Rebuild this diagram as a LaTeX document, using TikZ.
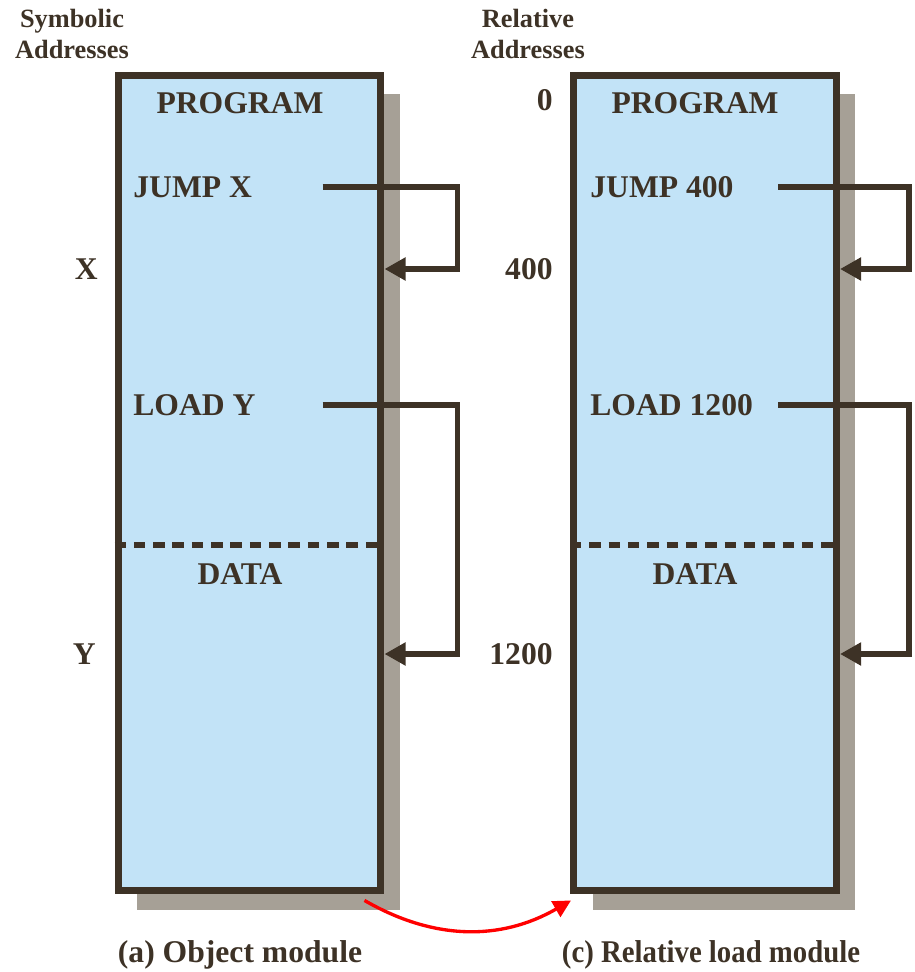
\documentclass[tikz,border=0pt]{standalone}
\usepackage{fontspec}
\setmainfont{Liberation Serif}
\usetikzlibrary{
    positioning,
    arrows.meta,
    shadows,
    calc
}
\definecolor{ModuleBlue}{RGB}{194,227,247}
\definecolor{InkBrown}{RGB}{61,50,38}
\definecolor{ShadowGray}{RGB}{166,160,150}

\begin{document}
\begin{tikzpicture}[
    x=0.02cm, y=-0.02cm,
    module/.style={rectangle, draw=InkBrown, line width=4pt, fill=ModuleBlue, minimum width=5.26cm, minimum height=16.32cm, drop shadow={shadow xshift=0.38cm, shadow yshift=-0.38cm, fill=ShadowGray, opacity=1}},
    txt/.style={text=InkBrown, font=\fontsize{18}{22}\selectfont\bfseries, inner sep=0pt},
    addr/.style={text=InkBrown, font=\fontsize{15}{18}\selectfont\bfseries, align=center, inner sep=0pt},
    link/.style={draw=InkBrown, line width=3.4pt, -{Triangle[length=12pt,width=12.5pt]}},
    divider/.style={draw=InkBrown, line width=3.2pt, dash pattern=on 6.5pt off 4.5pt},
    relocate/.style={draw=red, line width=1.9pt, -{Triangle[length=10pt,width=10pt]}}
]
\useasboundingbox (0,0) rectangle (914,972);

% the two modules
\node[module] (objmod) at (249.5,483) {};
\node[module] (relmod) at (705,483) {};

\node[addr] (symhead) at (72,34) {Symbolic\\Addresses};
\node[addr] (relhead) at (528,34) {Relative\\Addresses};

% object module
\node[txt] (objprog) at (240,103) {PROGRAM};
\node[txt, anchor=west] (jumpx) at (133,187) {JUMP X};
\node[txt, anchor=west] (loady) at (133,405) {LOAD Y};
\node[txt] (objdata) at (240,574) {DATA};
\node[txt, anchor=east] (symx) at (98,269) {X};
\node[txt, anchor=east] (symy) at (96,654) {Y};

% relative load module
\node[txt] (relprog) at (695,103) {PROGRAM};
\node[txt, anchor=west] (jump400) at (590,187) {JUMP 400};
\node[txt, anchor=west] (load1200) at (590,405) {LOAD 1200};
\node[txt] (reldata) at (695,574) {DATA};
\node[txt, anchor=east] (rel0) at (553,100) {0};
\node[txt, anchor=east] (rel400) at (553,269) {400};
\node[txt, anchor=east] (rel1200) at (553,654) {1200};

\node[txt] (objcap) at (240,955) {(a) Object module};
\node[txt] (relcap) at (711,955) {\scalebox{0.91}[1]{(c) Relative load module}};

% program / data split
\coordinate (split) at (0,545);
\draw[divider] (objmod.west |- split) -- (objmod.east |- split);
\draw[divider] (relmod.west |- split) -- (relmod.east |- split);

% references
\coordinate (jxs) at ($(objmod.center |- jumpx)+(73,0)$);
\coordinate (lys) at ($(objmod.center |- loady)+(73,0)$);
\draw[link] (jxs) -- ++(135,0) |- (objmod.east |- symx);
\draw[link] (lys) -- ++(135,0) |- (objmod.east |- symy);

\coordinate (j4s) at ($(relmod.center |- jump400)+(73,0)$);
\coordinate (l12s) at ($(relmod.center |- load1200)+(73,0)$);
\draw[link] (j4s) -- ++(131,0) |- (relmod.east |- rel400);
\draw[link] (l12s) -- ++(131,0) |- (relmod.east |- rel1200);

\draw[relocate] ($(objmod.south east)+(-20,6)$) to[bend right=30] ($(relmod.south west)+(1,6)$);
\end{tikzpicture}
\end{document}
